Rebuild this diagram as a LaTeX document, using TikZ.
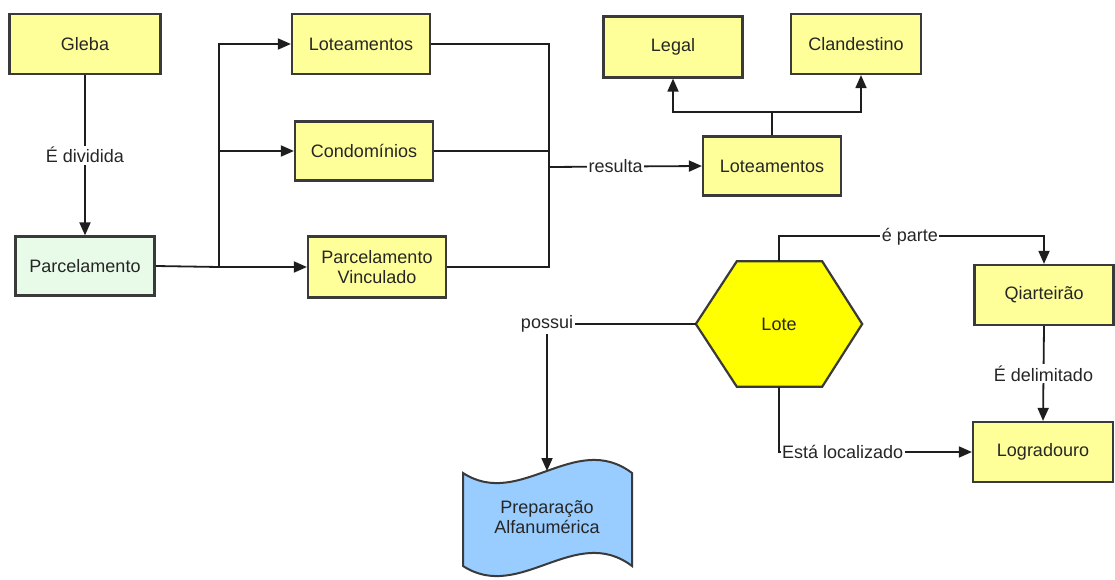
\documentclass[tikz,border=0pt]{standalone}
\usepackage{fontspec}
\setmainfont{Liberation Sans}
\usetikzlibrary{arrows.meta}
\definecolor{boxyellow}{HTML}{FFFF99}
\definecolor{boxgreen}{HTML}{E8FBE8}
\definecolor{hexyellow}{HTML}{FFFF00}
\definecolor{tapeblue}{HTML}{99CCFF}
\definecolor{edge}{HTML}{3A3A3A}
\definecolor{wire}{HTML}{1E1E1E}
\begin{document}
\begin{tikzpicture}[x=1pt,y=-1pt,
  font=\fontsize{18}{20.5}\selectfont,
  box/.style={draw=edge, line width=2.2pt, fill=boxyellow, minimum width=138pt,
    minimum height=60pt, inner sep=0pt, align=center, text=black!85},
  conn/.style={draw=wire, line width=1.8pt},
  arr/.style={conn, -{Triangle[length=13pt,width=11pt]}},
  lbl/.style={fill=white, inner sep=1.5pt, text=black!85}]
\useasboundingbox (0,0) rectangle (1115,580);

% boxes
\node[box, minimum width=151pt] (gleba) at (85,44) {Gleba};
\node[box, fill=boxgreen, minimum width=139pt, minimum height=59pt] (parc) at (85,266) {Parcelamento};
\node[box] (lot1) at (361,44) {Loteamentos};
\node[box, minimum height=59pt] (cond) at (364,151) {Condomínios};
\node[box, minimum height=61pt] (vinc) at (377,267) {Parcelamento\\Vinculado};
\node[box, minimum height=59pt] (lot2) at (772,166) {Loteamentos};
\node[box, minimum width=139pt, minimum height=61pt] (legal) at (673,47) {Legal};
\node[box, minimum width=130pt] (cland) at (856,44) {Clandestino};
\node[box, minimum width=139pt] (qiart) at (1044,295) {Qiarteirão};
\node[box, minimum width=140pt] (lograd) at (1043,452) {Logradouro};

% hexagon
\node[minimum width=166pt, minimum height=125pt, inner sep=0pt] (lote) at (779,324) {};
\filldraw[draw=edge, line width=2.2pt, fill=hexyellow, line join=miter]
  (lote.west) -- ([xshift=41pt]lote.north west) -- ([xshift=-40pt]lote.north east)
  -- (lote.east) -- ([xshift=-40pt]lote.south east) -- ([xshift=41pt]lote.south west) -- cycle;
\node[text=black!85] at (lote) {Lote};

% tape shape
\filldraw[draw=edge, line width=2pt, fill=tapeblue]
  (463,473) .. controls (520,510) and (575,430) .. (632,473)
  -- (632,566) .. controls (575,523) and (520,603) .. (463,566) -- cycle;
\node[align=center, text=black!85] (prep) at (547,517) {Preparação\\Alfanumérica};
\coordinate (preptop) at (547,471);

% Gleba to Parcelamento
\draw[arr] (gleba.south) -- node[lbl]{É dividida} (parc.north);

% Parcelamento branches
\coordinate (jl) at (219,267);
\draw[conn] (parc.east) -- (jl);
\draw[arr] (jl) |- (lot1.west);
\draw[arr] (jl |- cond.west) -- (cond.west);
\draw[arr] (jl) -- (vinc.west);

% merge into resulta
\coordinate (jr) at (549,167);
\draw[conn] (lot1.east) -| (jr);
\draw[conn] (cond.east) -- (cond.east -| jr);
\draw[conn] (vinc.east) -| (jr);
\draw[arr] (jr) -- node[lbl, pos=0.435]{resulta} (lot2.west);

% Loteamentos split
\coordinate (split) at (772,112);
\draw[conn] (lot2.north) -- (split);
\draw[arr] (split) -| (legal.south);
\draw[arr] (split) -| ([xshift=5pt]cland.south);

% Lote relations
\draw[arr] (lote.north) -- ++(0,-25) -| node[lbl, pos=0.247]{é parte} (qiart.north);
\draw[arr] (qiart.south) -- node[lbl]{É delimitado} (lograd.north);
\draw[arr] (lote.south) |- node[lbl, pos=0.665]{Está localizado} (lograd.west);
\draw[arr] (lote.west) -| node[lbl]{possui} (preptop);
\end{tikzpicture}
\end{document}
